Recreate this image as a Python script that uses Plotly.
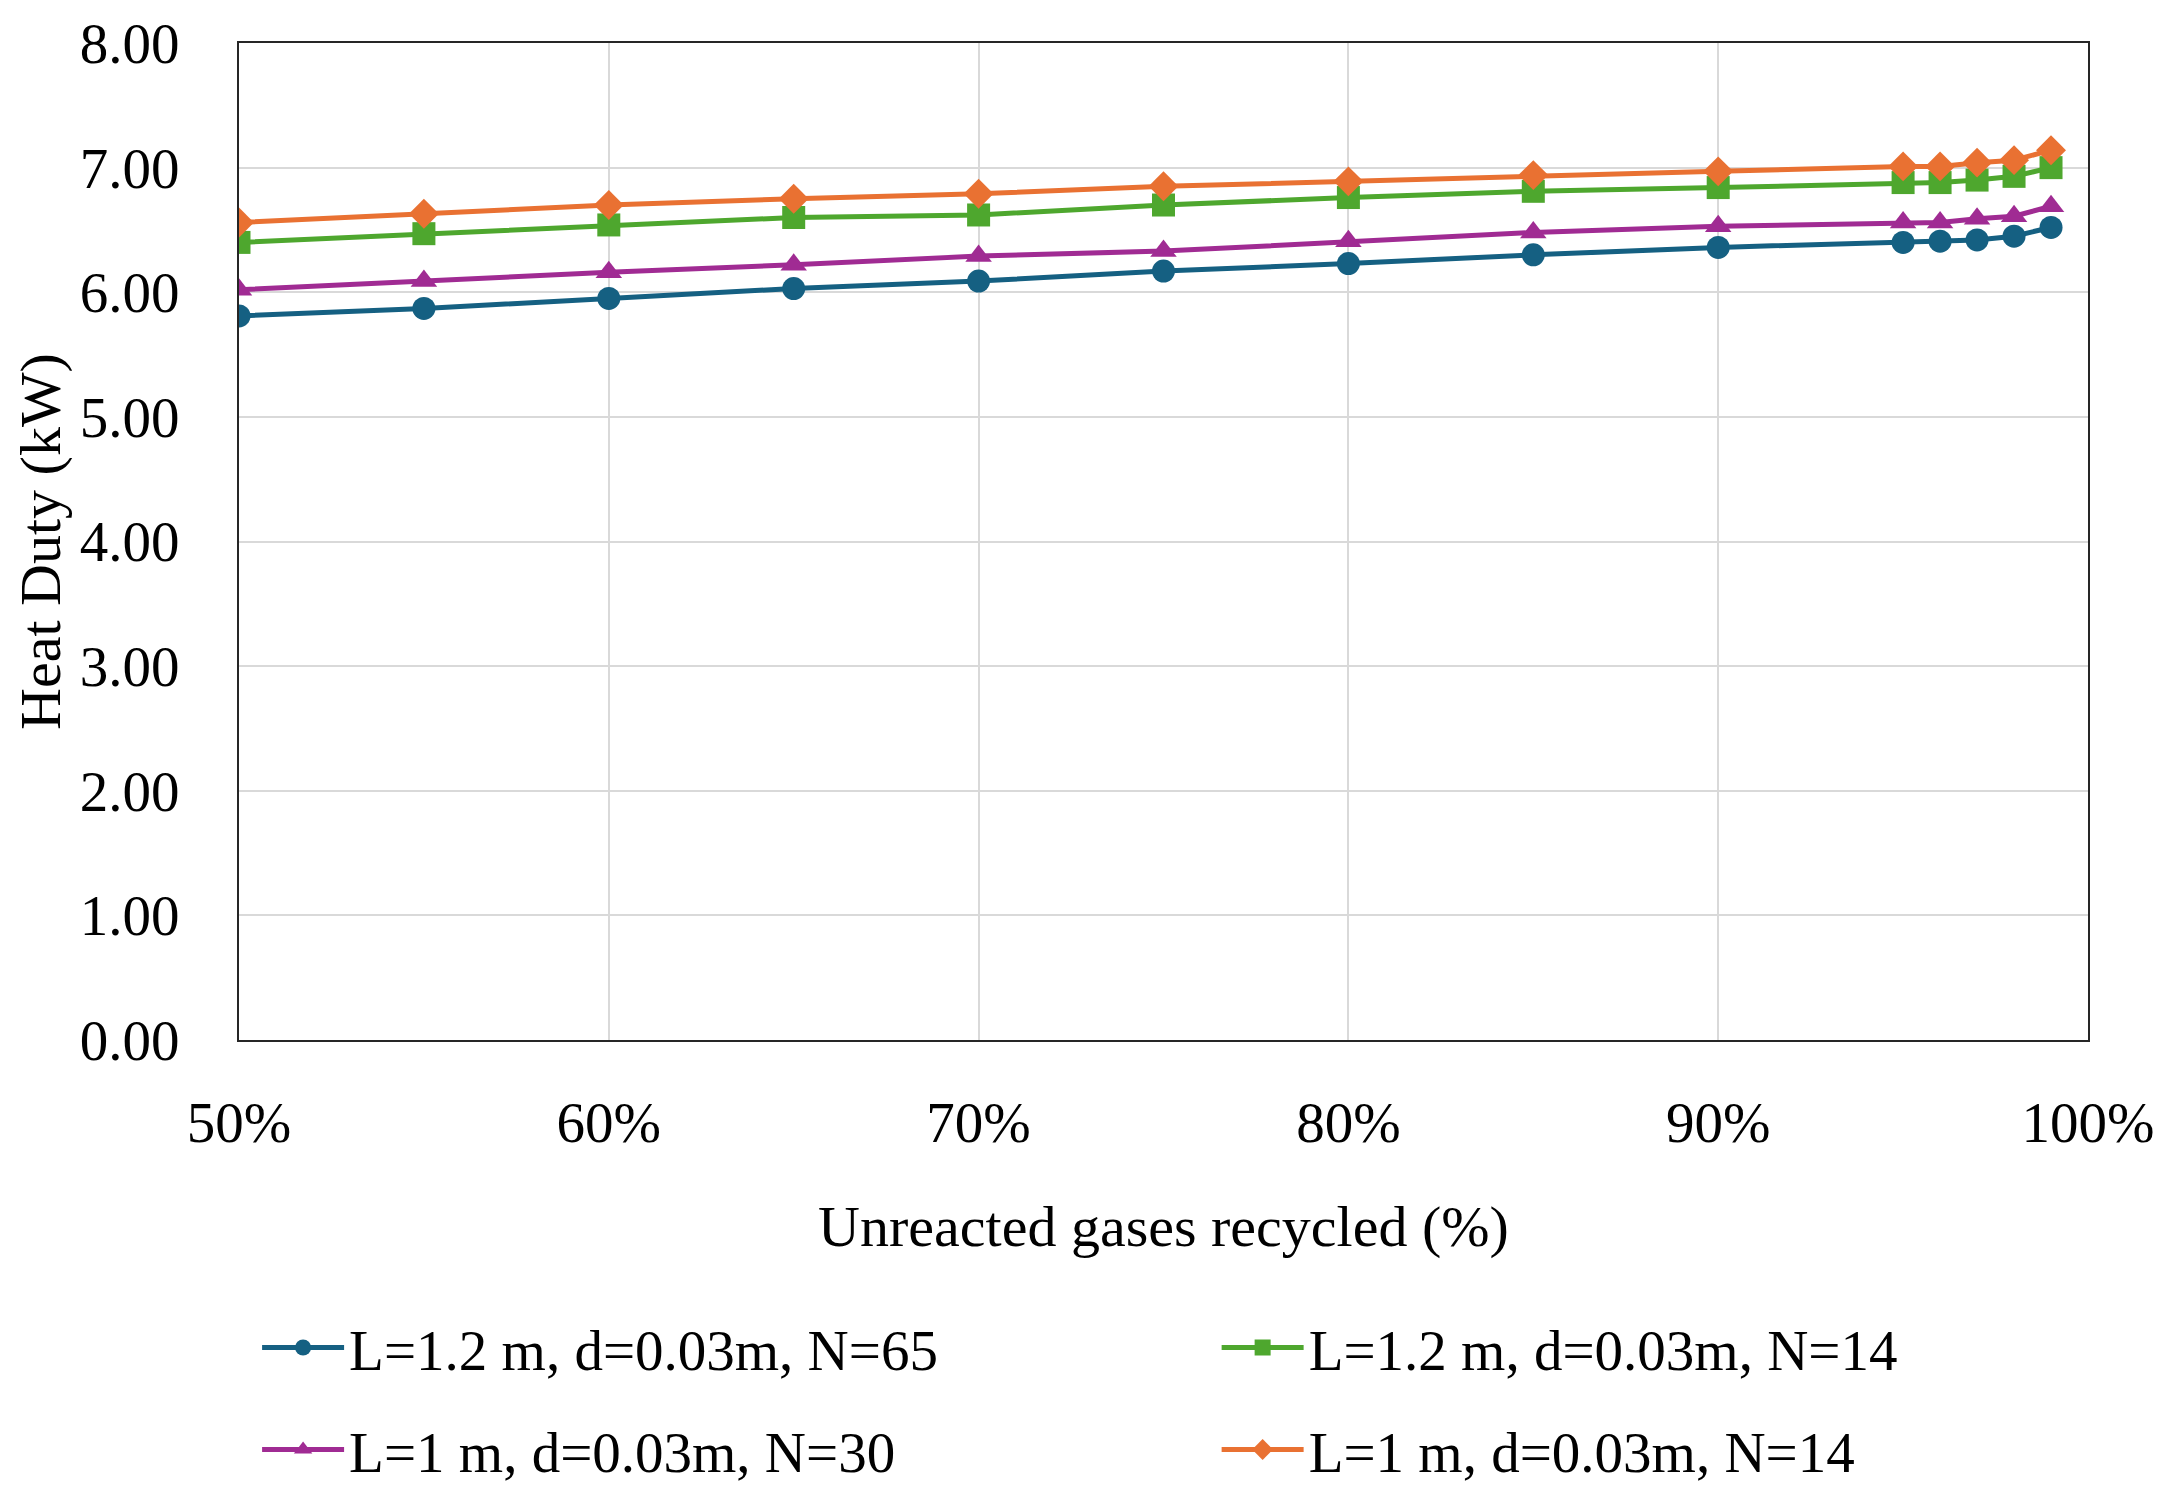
import plotly.graph_objects as go

recycled = [50, 55, 60, 65, 70, 75, 80, 85, 90, 95, 96, 97, 98, 99]
blue_n65 = [5.81, 5.87, 5.95, 6.03, 6.09, 6.17, 6.23, 6.30, 6.36, 6.40, 6.41, 6.42, 6.45, 6.52]
green_n14 = [6.40, 6.47, 6.54, 6.60, 6.62, 6.70, 6.76, 6.81, 6.84, 6.88, 6.88, 6.90, 6.93, 7.00]
purple_n30 = [6.02, 6.09, 6.16, 6.22, 6.29, 6.33, 6.41, 6.48, 6.53, 6.56, 6.56, 6.59, 6.61, 6.69]
orange_n14 = [6.56, 6.63, 6.70, 6.75, 6.79, 6.85, 6.89, 6.94, 6.97, 7.01, 7.01, 7.04, 7.06, 7.14]

names = ["L=1.2 m, d=0.03m, N=65", "L=1.2 m, d=0.03m, N=14",
         "L=1 m, d=0.03m, N=30", "L=1 m, d=0.03m, N=14"]

FONT = "Liberation Serif"
FS = 57
fig = go.Figure()
series = [
    (blue_n65, names[0], "#156082", "circle", "legend"),
    (green_n14, names[1], "#4EA72E", "square", "legend2"),
    (purple_n30, names[2], "#A02B93", "triangle-up", "legend3"),
    (orange_n14, names[3], "#E97132", "diamond", "legend4"),
]
for ys, nm, col, sym, lg in series:
    fig.add_trace(go.Scatter(
        x=recycled, y=ys, name=nm, mode="lines+markers",
        line=dict(color=col, width=5),
        marker=dict(symbol=sym, size=23, color=col),
        legend=lg,
    ))

legend_common = dict(
    orientation="h", xref="container", yref="container",
    font=dict(family=FONT, size=FS, color="#000000"),
    itemwidth=82, bgcolor="rgba(0,0,0,0)",
    xanchor="left", yanchor="middle",
)

col1_x, col2_x = 0.115, 0.558
row1_y, row2_y = 0.1037, 0.0355

fig.update_layout(
    width=2166, height=1495,
    paper_bgcolor="white", plot_bgcolor="white",
    margin=dict(l=231, r=86, t=35, b=463),
    font=dict(family=FONT, size=FS, color="#000000"),
    showlegend=True,
    legend=dict(x=col1_x, y=row1_y, **legend_common),
    legend2=dict(x=col2_x, y=row1_y, **legend_common),
    legend3=dict(x=col1_x, y=row2_y, **legend_common),
    legend4=dict(x=col2_x, y=row2_y, **legend_common),
    xaxis=dict(
        range=[50, 100], dtick=10, tick0=50, ticksuffix="%",
        showgrid=True, gridcolor="#D9D9D9", gridwidth=2,
        showline=True, linecolor="#262626", linewidth=2, mirror=True,
        zeroline=False, ticks="", ticklabelstandoff=32, automargin=False,
        ticklabeloverflow="allow",
        tickfont=dict(family=FONT, size=FS),
        title=dict(text="Unreacted gases recycled (%)", standoff=52,
                   font=dict(family=FONT, size=58)),
    ),
    yaxis=dict(
        range=[0, 8], dtick=1, tickformat=".2f",
        showgrid=True, gridcolor="#D9D9D9", gridwidth=2,
        showline=True, linecolor="#262626", linewidth=2, mirror=True,
        zeroline=False, ticks="", ticklabelstandoff=46, automargin=False,
        ticklabeloverflow="allow",
        tickfont=dict(family=FONT, size=FS),
        title=dict(text="Heat Duty (kW)", standoff=14,
                   font=dict(family=FONT, size=58)),
    ),
)

fig.write_html("out.html")
